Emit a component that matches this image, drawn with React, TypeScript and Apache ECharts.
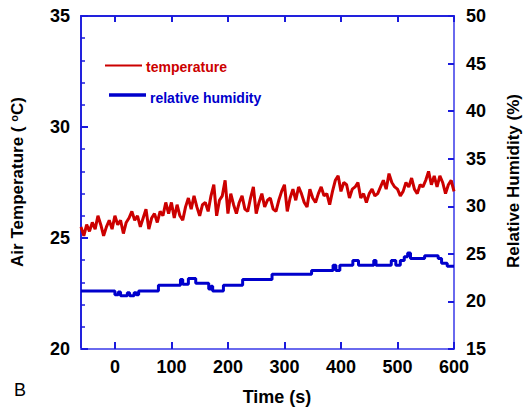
import React, { useEffect, useRef } from "react";
import * as echarts from "echarts";

const FONT = "'Liberation Sans', Arial, sans-serif";

// Temperature sampled every 5 s starting at -60 s
const tempStart = -60;
const tempStep = 5;
const temperature = [
  25.5, 25.1, 25.6, 25.3, 25.7, 25.4, 26.0, 25.6, 25.1, 25.5, 25.8, 25.4, 26.0, 25.6, 25.8, 25.2, 25.7,
  25.9, 26.2, 25.8, 26.0, 25.5, 25.9, 26.3, 25.4, 25.9, 26.1, 25.7, 26.2, 26.0, 26.6, 26.1, 26.6, 25.9,
  26.5, 26.0, 25.8, 26.4, 26.8, 26.3, 26.9, 26.4, 26.0, 26.5, 26.6, 26.2, 26.9, 27.4, 26.0, 26.7, 26.9,
  27.6, 26.1, 27.0, 26.5, 26.1, 26.6, 26.9, 26.3, 26.2, 26.8, 27.3, 26.1, 26.6, 27.0, 26.4, 26.7, 26.8,
  26.3, 26.2, 26.7, 27.1, 27.4, 26.2, 26.8, 27.2, 26.7, 27.3, 27.0, 26.6, 26.4, 27.2, 26.8, 26.6, 27.0,
  27.3, 26.9, 27.0, 26.5, 27.1, 27.6, 27.8, 27.1, 27.5, 27.4, 26.8, 27.2, 27.3, 27.5, 26.8, 27.0,
  26.6, 27.0, 27.2, 26.9, 27.0, 27.3, 27.6, 27.2, 27.9, 27.5, 27.3, 27.2, 26.9, 27.1, 27.5, 27.3,
  27.7, 27.2, 27.0, 27.4, 27.3, 27.6, 28.0, 27.4, 27.8, 27.3, 27.8, 27.5, 27.0, 27.4, 27.6, 27.1,
];

// Relative humidity: step changes (time s, value %)
const humidityTimes = [
  -60, 0, 6, 10, 22, 26, 34, 38, 42, 77, 116, 120, 130, 143, 166, 170, 173, 192, 226, 278, 348, 386,
  391, 398, 421, 431, 458, 462, 489, 497, 505, 512, 518, 523, 548, 572, 578, 588, 600,
];
const humidity = [
  21.1, 20.7, 21.0, 20.6, 20.9, 20.6, 20.9, 20.7, 21.1, 21.7, 22.3, 21.8, 22.4, 21.9, 21.3, 21.6, 21.1,
  21.7, 22.3, 22.85, 23.25, 23.8, 23.25, 23.8, 24.3, 23.8, 24.3, 23.8, 24.3, 23.8, 24.3, 24.7, 25.1,
  24.5, 24.8, 24.5, 24.0, 23.7, 23.7,
];

const xTicks = [0, 100, 200, 300, 400, 500, 600];

const tempData = temperature.map((v, i) => [tempStart + i * tempStep, v]);
const humData = humidity.map((v, i) => [humidityTimes[i], v]);

export default function App() {
  const ref = useRef<HTMLDivElement>(null);
  useEffect(() => {
    if (!ref.current) return;
    const chart = echarts.init(ref.current, null, { renderer: "svg" });
    const labelStyle = { fontSize: 18, fontWeight: "bold" as const, color: "#000", fontFamily: FONT };
    const tickBlue = "#1a1add";
    chart.setOption({
      animation: false,
      backgroundColor: "#fff",
      grid: { left: 81, right: 69, top: 16, bottom: 61 },
      xAxis: [
        {
          type: "value",
          min: -60,
          max: 600,
          position: "bottom",
          axisLine: { onZero: false, lineStyle: { color: "#6a6aee", width: 2 } },
          axisTick: { show: true, inside: true, length: 7, customValues: xTicks, lineStyle: { color: tickBlue, width: 2 } },
          axisLabel: { ...labelStyle, margin: 9, customValues: xTicks },
          splitLine: { show: false },
        },
        {
          type: "value",
          min: -60,
          max: 600,
          position: "top",
          axisLine: { onZero: false, lineStyle: { color: "#2222dd", width: 2 } },
          axisTick: { show: true, inside: true, length: 6, customValues: xTicks, lineStyle: { color: tickBlue, width: 2 } },
          axisLabel: { show: false },
          splitLine: { show: false },
        },
      ],
      yAxis: [
        {
          type: "value",
          min: 20,
          max: 35,
          interval: 5,
          position: "left",
          axisLine: { show: true, onZero: false, lineStyle: { color: "#2222dd", width: 2 } },
          axisTick: { show: true, inside: true, length: 7, lineStyle: { color: tickBlue, width: 2 } },
          minorTick: { show: true, splitNumber: 5, length: 4, lineStyle: { color: tickBlue, width: 1.5 } },
          axisLabel: { ...labelStyle, margin: 11 },
          splitLine: { show: false },
          minorSplitLine: { show: false },
        },
        {
          type: "value",
          min: 15,
          max: 50,
          interval: 5,
          position: "right",
          axisLine: { show: true, onZero: false, lineStyle: { color: "#6a6aee", width: 2 } },
          axisTick: { show: true, inside: true, length: 6, lineStyle: { color: tickBlue, width: 2 } },
          axisLabel: { ...labelStyle, margin: 12 },
          splitLine: { show: false },
        },
      ],
      series: [
        {
          name: "temperature",
          type: "line",
          xAxisIndex: 0,
          yAxisIndex: 0,
          data: tempData,
          showSymbol: false,
          lineStyle: { color: "#cc0000", width: 3 },
          itemStyle: { color: "#cc0000" },
        },
        {
          name: "relative humidity",
          type: "line",
          step: "end",
          xAxisIndex: 0,
          yAxisIndex: 1,
          data: humData,
          showSymbol: false,
          lineStyle: { color: "#0000cc", width: 3 },
          itemStyle: { color: "#0000cc" },
        },
      ],
      graphic: [
        { type: "line", shape: { x1: 105, y1: 65.5, x2: 142, y2: 65.5 }, style: { stroke: "#cc0000", lineWidth: 2 } },
        {
          type: "text",
          x: 146,
          y: 67,
          style: { text: "temperature", fill: "#cc0000", font: `bold 14px ${FONT}`, verticalAlign: "middle" },
        },
        { type: "line", shape: { x1: 109, y1: 95, x2: 146, y2: 95 }, style: { stroke: "#0000cc", lineWidth: 3.5 } },
        {
          type: "text",
          x: 150,
          y: 97.5,
          style: { text: "relative humidity", fill: "#0000cc", font: `bold 14px ${FONT}`, verticalAlign: "middle" },
        },
        {
          type: "text",
          x: 17,
          y: 182,
          rotation: Math.PI / 2,
          style: {
            text: "Air Temperature ( {sup|o}C)",
            fill: "#000",
            font: `bold 17px ${FONT}`,
            align: "center",
            verticalAlign: "middle",
            rich: {
              sup: { fontSize: 11, fontWeight: "bold", fontFamily: FONT, verticalAlign: "top", fill: "#000" },
            },
          },
        },
        {
          type: "text",
          x: 513,
          y: 181,
          rotation: Math.PI / 2,
          style: {
            text: "Relative Humidity (%)",
            fill: "#000",
            font: `bold 17px ${FONT}`,
            align: "center",
            verticalAlign: "middle",
          },
        },
        {
          type: "text",
          x: 277,
          y: 397,
          style: { text: "Time (s)", fill: "#000", font: `bold 18px ${FONT}`, align: "center", verticalAlign: "middle" },
        },
        {
          type: "text",
          x: 20,
          y: 390,
          style: { text: "B", fill: "#000", font: `18px ${FONT}`, align: "center", verticalAlign: "middle" },
        },
      ],
    });
    return () => chart.dispose();
  }, []);
  return <div ref={ref} style={{ position: "fixed", left: 0, top: 0, width: 523, height: 410 }} />;
}
